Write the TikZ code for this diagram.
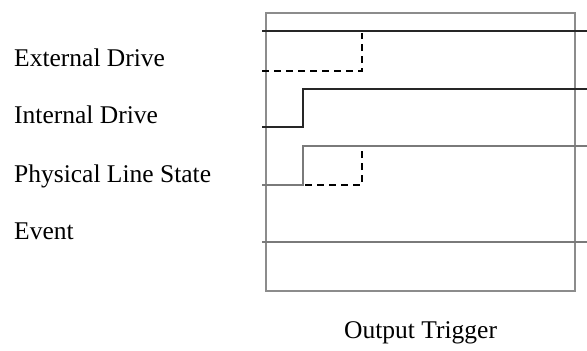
\documentclass[tikz,border=0pt]{standalone}
\usepackage{fontspec}
\setmainfont{Liberation Serif}
\usetikzlibrary{positioning}
\definecolor{tgframe}{HTML}{8C8C8C}
\definecolor{tgdark}{HTML}{262626}
\definecolor{tggrey}{HTML}{7A7A7A}

\begin{document}
\begin{tikzpicture}[x=1pt, y=-1pt, line join=miter,
                    font=\fontsize{25.5}{30}\selectfont,
                    sig/.style={tgdark, line width=2.2pt},
                    sigg/.style={tggrey, line width=2.6pt},
                    off/.style={black, line width=1.9pt, dash pattern=on 7pt off 5pt},
                    lbl/.style={anchor=base west, inner sep=0pt}]
  \useasboundingbox (0,0) rectangle (587,351);
  % frame of the trigger window
  \draw[tgframe, line width=1.5pt] (266,13) rectangle (575,291);
  % labels
  \node[lbl] (ext) at (14,66) {External Drive};
  \node[lbl] (int) at (14,123) {Internal Drive};
  \node[lbl] (phy) at (14,182) {Physical Line State};
  \node[lbl] (evt) at (14,239) {Event};
  \node[lbl] (trig) at (344,338) {Output Trigger};
  % (1) external drive
  \draw[sig] (262,31) -- (587,31);
  \draw[off] (262,71) -- (362,71) -- (362,33);
  % (2) internal drive
  \draw[sig] (262,127) -- (303,127) -- (303,89) -- (587,89);
  % (3) physical line state
  \draw[sigg] (262,185) -- (303,185) -- (303,146) -- (587,146);
  \draw[off] (305,185) -- (362,185) -- (362,149);
  % (4) event
  \draw[sigg] (262,242) -- (587,242);
\end{tikzpicture}
\end{document}
